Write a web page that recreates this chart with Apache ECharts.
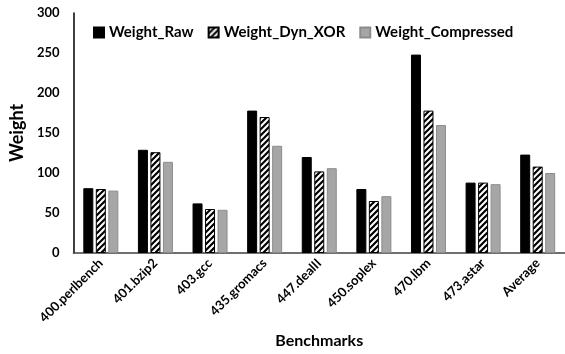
<!DOCTYPE html>
<html>
<head>
<meta charset="utf-8">
<script src="https://cdn.jsdelivr.net/npm/echarts@6/dist/echarts.min.js"></script>
<style>
  html, body { margin: 0; padding: 0; background: #fff; }
  #chart { width: 565px; height: 354px; }
</style>
</head>
<body>
<div id="chart"></div>
<script>
const benchmarks = ["400.perlbench", "401.bzip2", "403.gcc", "435.gromacs", "447.dealII", "450.soplex", "470.lbm", "473.astar", "Average"];
const weightRaw = [81, 129, 62, 178, 120, 80, 248, 88, 123];
const weightDynXor = [80, 126, 55, 170, 102, 65, 178, 88, 108];
const weightCompressed = [78, 114, 54, 134, 106, 71, 160, 86, 100];
const yTicks = [0, 50, 100, 150, 200, 250, 300];

// diagonal stripe fill for the XOR series
function stripeCanvas() {
    const c = document.createElement("canvas");
    c.width = 6;
    c.height = 6;
    const ctx = c.getContext("2d");
    ctx.fillStyle = "#fff";
    ctx.fillRect(0, 0, 6, 6);
    ctx.strokeStyle = "#000";
    ctx.lineWidth = 2.2;
    ctx.beginPath();
    ctx.moveTo(-1, 7); ctx.lineTo(7, -1);
    ctx.moveTo(-4, 4); ctx.lineTo(4, -4);
    ctx.moveTo(2, 10); ctx.lineTo(10, 2);
    ctx.stroke();
    return c;
}
const stripe = { image: stripeCanvas(), repeat: "repeat" };

const font = "Lato, 'Open Sans', sans-serif";
const chart = echarts.init(document.getElementById("chart"), null, { renderer: "canvas" });

chart.setOption({
    backgroundColor: "#fff",
    animation: false,
    textStyle: { fontFamily: font },
    legend: {
        top: 20,
        left: 88,
        icon: "rect",
        itemWidth: 10,
        itemHeight: 10,
        itemGap: 14,
        textStyle: { fontSize: 15, fontWeight: "bold", color: "#000", fontFamily: font },
        data: ["Weight_Raw", "Weight_Dyn_XOR", "Weight_Compressed"],
    },
    grid: { left: 67, right: 0, top: 13, bottom: 100 },
    xAxis: {
        type: "category",
        data: benchmarks,
        name: "Benchmarks",
        nameLocation: "middle",
        nameGap: 80,
        nameTextStyle: { fontSize: 16, fontWeight: "bold", color: "#000", fontFamily: font },
        axisLine: { lineStyle: { color: "#404040", width: 1.5 } },
        axisTick: { show: false },
        axisLabel: { rotate: 45, fontSize: 13, fontWeight: "bold", color: "#000", margin: 8, interval: 0 },
    },
    yAxis: {
        type: "value",
        min: yTicks[0],
        max: yTicks[yTicks.length - 1],
        interval: 50,
        name: "Weight",
        nameLocation: "middle",
        nameGap: 37,
        nameTextStyle: { fontSize: 18, fontWeight: "bold", color: "#000", fontFamily: font },
        axisLine: { show: true, lineStyle: { color: "#000", width: 1.5 } },
        axisTick: { show: false },
        splitLine: { show: false },
        axisLabel: { fontSize: 13, fontWeight: "bold", color: "#000", margin: 14 },
    },
    series: [
        {
            name: "Weight_Raw",
            type: "bar",
            data: weightRaw,
            barWidth: 10,
            barGap: "25%",
            barCategoryGap: "36%",
            itemStyle: { color: "#000", borderColor: "#000", borderWidth: 1 },
        },
        {
            name: "Weight_Dyn_XOR",
            type: "bar",
            data: weightDynXor,
            barWidth: 10,
            barGap: "25%",
            itemStyle: { color: stripe, borderColor: "#000", borderWidth: 1 },
        },
        {
            name: "Weight_Compressed",
            type: "bar",
            data: weightCompressed,
            barWidth: 10,
            barGap: "25%",
            itemStyle: { color: "#a6a6a6", borderColor: "#8c8c8c", borderWidth: 1 },
        },
    ],
});
</script>
</body>
</html>
